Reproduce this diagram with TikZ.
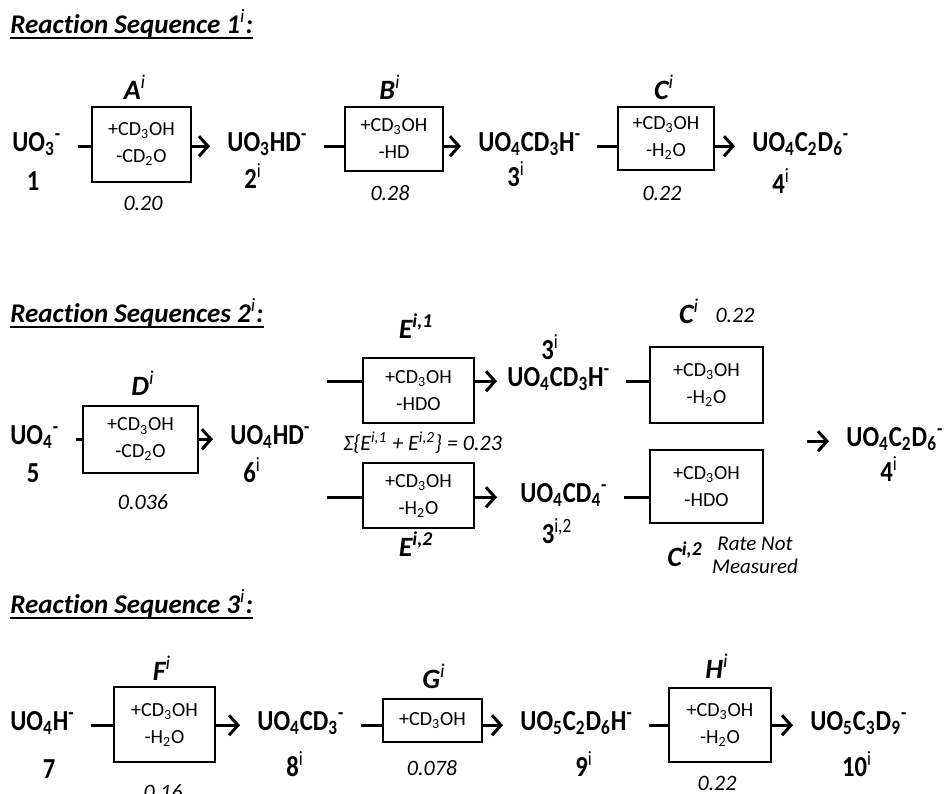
\documentclass[tikz,border=0pt]{standalone}
\usepackage{fontspec}
\setmainfont{Carlito}[Ligatures=NoCommon]
\newfontfamily\molfont{Carlito}[FakeStretch=0.85]
\usetikzlibrary{arrows.meta}

\tikzset{
  mol/.style={font=\fontsize{14.5}{16}\selectfont\molfont\bfseries, inner sep=0pt, anchor=base west},
  num/.style={font=\fontsize{14.5}{16}\selectfont\molfont\bfseries, inner sep=0pt, anchor=base},
  rxn/.style={font=\fontsize{14}{16}\selectfont\bfseries\itshape, inner sep=0pt, anchor=base},
  rate/.style={font=\fontsize{11}{13}\selectfont\itshape, inner sep=0pt},
  head/.style={font=\fontsize{13.5}{16}\selectfont\bfseries\itshape, inner sep=0pt, anchor=base west},
  uline/.style={line width=1pt},
  stepbox/.style={draw, line width=0.8pt, inner sep=0pt, align=center, font=\fontsize{10}{13.5}\selectfont},
  stub/.style={line width=1.5pt, shorten <=8pt},
  rx/.style={line width=1.5pt, -{Straight Barb[length=4.5pt,width=10pt]}, shorten >=8.5pt},
}

\begin{document}
\begin{tikzpicture}[x=0.5pt,y=-0.5pt]
    \useasboundingbox (0,0) rectangle (946,793);
    \clip (0,0) rectangle (946,793);
    % Sequence 1
    \node[head] (t1) at (10,33) {Reaction Sequence 1\textsuperscript{\mdseries i}:};
    \draw[uline] ([yshift=-2.5pt]t1.base west) -- ([yshift=-2.5pt]t1.base east);
    \node[mol] (m1) at (12,151) {UO\textsubscript{3}\textsuperscript{-}};
    \node[num] (n1) at (33,190) {1};
    \node[stepbox, minimum width=49.5pt, minimum height=37.5pt] (bA) at (141.5,144.5) {+CD\textsubscript{3}OH\\-CD\textsubscript{2}O};
    \node[rxn] (lA) at (135,99) {A\textsuperscript{\mdseries i}};
    \node[rate] (rA) at (143,203) {0.20};
    \node[mol] (m2) at (227,151) {UO\textsubscript{3}HD\textsuperscript{-}};
    \node[num] (n2) at (253,188) {2\textsuperscript{\mdseries i}};
    \node[stepbox, minimum width=49pt, minimum height=32pt] (bB) at (394,139) {+CD\textsubscript{3}OH\\-HD};
    \node[rxn] (lB) at (390,99) {B\textsuperscript{\mdseries i}};
    \node[rate] (rB) at (390,193) {0.28};
    \node[mol] (m3) at (478,151) {UO\textsubscript{4}CD\textsubscript{3}H\textsuperscript{-}};
    \node[num] (n3) at (516,186) {3\textsuperscript{\mdseries i}};
    \node[stepbox, minimum width=48pt, minimum height=31.5pt] (bC) at (666,138.5) {+CD\textsubscript{3}OH\\-H\textsubscript{2}O};
    \node[rxn] (lC) at (664,99) {C\textsuperscript{\mdseries i}};
    \node[rate] (rC) at (662,193) {0.22};
    \node[mol] (m4) at (752,151) {UO\textsubscript{4}C\textsubscript{2}D\textsubscript{6}\textsuperscript{-}};
    \node[num] (n4) at (781,193) {4\textsuperscript{\mdseries i}};
    \foreach \a/\b/\c in {m1/bA/m2, m2/bB/m3, m3/bC/m4} {
        \draw[stub] (\a.mid east) -- (\a.mid east -| \b.west);
        \draw[rx] (\c.mid west -| \b.east) -- (\c.mid west);
    }
    % Sequence 2
    \node[head] (t2) at (10,322) {Reaction Sequences 2\textsuperscript{\mdseries i}:};
    \draw[uline] ([yshift=-2.5pt]t2.base west) -- ([yshift=-2.5pt]t2.base east);
    \node[mol] (m5) at (10,444) {UO\textsubscript{4}\textsuperscript{-}};
    \node[num] (n5) at (33,482) {5};
    \node[stepbox, minimum width=57.5pt, minimum height=33.5pt] (bD) at (140.5,439.5) {+CD\textsubscript{3}OH\\-CD\textsubscript{2}O};
    \node[rxn] (lD) at (143,395) {D\textsuperscript{\mdseries i}};
    \node[rate] (rD) at (143,502) {0.036};
    \node[mol] (m6) at (230,444) {UO\textsubscript{4}HD\textsuperscript{-}};
    \node[num] (n6) at (252,482) {6\textsuperscript{\mdseries i}};
    % upper branch
    \node[stepbox, minimum width=55.5pt, minimum height=32.5pt] (bE1) at (418.5,390.5) {+CD\textsubscript{3}OH\\-HDO};
    \node[rxn] (lE1) at (416,338) {E\textsuperscript{i,1}};
    \node[mol] (m3b) at (507,386) {UO\textsubscript{4}CD\textsubscript{3}H\textsuperscript{-}};
    \node[num] (n3b) at (550,359) {3\textsuperscript{\mdseries i}};
    \node[stepbox, minimum width=56.5pt, minimum height=38pt] (bC1) at (706.5,385) {+CD\textsubscript{3}OH\\-H\textsubscript{2}O};
    \node[rxn] (lC1) at (689,323) {C\textsuperscript{\mdseries i}};
    \node[rate] (rC1) at (735,315) {0.22};
    \node[rate, anchor=base west] (sE) at (343,450) {Σ\{E\textsuperscript{i,1} + E\textsuperscript{i,2}\} = 0.23};
    % lower branch
    \node[stepbox, minimum width=55.5pt, minimum height=32.5pt] (bE2) at (418.5,495.5) {+CD\textsubscript{3}OH\\-H\textsubscript{2}O};
    \node[rxn] (lE2) at (416,556) {E\textsuperscript{i,2}};
    \node[mol] (m3c) at (520,502) {UO\textsubscript{4}CD\textsubscript{4}\textsuperscript{-}};
    \node[num] (n3c) at (557,543) {3\textsuperscript{\mdseries i,2}};
    \node[stepbox, minimum width=56.5pt, minimum height=36.5pt] (bC2) at (706.5,486.5) {+CD\textsubscript{3}OH\\-HDO};
    \node[rxn] (lC2) at (685,566) {C\textsuperscript{i,2}};
    \node[rate, align=center, font=\fontsize{10.5}{11.5}\selectfont\itshape] (nm) at (755,555) {Rate Not\\Measured};
    % joined product
    \coordinate (c4) at (807,0);
    \node[mol] (m4b) at (846,446) {UO\textsubscript{4}C\textsubscript{2}D\textsubscript{6}\textsuperscript{-}};
    \node[num] (n4b) at (889,481) {4\textsuperscript{\mdseries i}};
    \draw[stub] (m5.mid east) -- (m5.mid east -| bD.west);
    \draw[rx] (m6.mid west -| bD.east) -- (m6.mid west);
    \draw[stub] (m6.east |- m3b.mid) -- (bE1.west |- m3b.mid);
    \draw[rx, shorten >=5pt] (bE1.east |- m3b.mid) -- (m3b.mid west);
    \draw[stub] (m6.east |- m3c.mid) -- (bE2.west |- m3c.mid);
    \draw[rx, shorten >=11.5pt] (bE2.east |- m3c.mid) -- (m3c.mid west);
    \draw[stub] (m3b.mid east) -- (m3b.mid east -| bC1.west);
    \draw[stub] (m3c.mid east) -- (m3c.mid east -| bC2.west);
    \draw[rx] (c4 |- m4b.mid west) -- (m4b.mid west);
    % Sequence 3
    \node[head] (t3) at (10,613) {Reaction Sequence 3\textsuperscript{\mdseries i}:};
    \draw[uline] ([yshift=-2.5pt]t3.base west) -- ([yshift=-2.5pt]t3.base east);
    \node[mol] (m7) at (10,730) {UO\textsubscript{4}H\textsuperscript{-}};
    \node[num] (n7) at (49,778) {7};
    \node[stepbox, minimum width=50.5pt, minimum height=37.5pt] (bF) at (164.5,724.5) {+CD\textsubscript{3}OH\\-H\textsubscript{2}O};
    \node[rxn] (lF) at (162,680) {F\textsuperscript{\mdseries i}};
    \node[rate] (rF) at (163,792) {0.16};
    \node[mol] (m8) at (257,730) {UO\textsubscript{4}CD\textsubscript{3}\textsuperscript{-}};
    \node[num] (n8) at (295,776) {8\textsuperscript{\mdseries i}};
    \node[stepbox, minimum width=49.5pt, minimum height=21.5pt] (bG) at (432.5,720.5) {+CD\textsubscript{3}OH};
    \node[rxn] (lG) at (434,688) {G\textsuperscript{\mdseries i}};
    \node[rate] (rG) at (432,768) {0.078};
    \node[mol] (m9) at (520,730) {UO\textsubscript{5}C\textsubscript{2}D\textsubscript{6}H\textsuperscript{-}};
    \node[num] (n9) at (584,776) {9\textsuperscript{\mdseries i}};
    \node[stepbox, minimum width=51pt, minimum height=37pt] (bH) at (720,725) {+CD\textsubscript{3}OH\\-H\textsubscript{2}O};
    \node[rxn] (lH) at (717,678) {H\textsuperscript{\mdseries i}};
    \node[rate] (rH) at (717,783) {0.22};
    \node[mol] (m10) at (810,730) {UO\textsubscript{5}C\textsubscript{3}D\textsubscript{9}\textsuperscript{-}};
    \node[num] (n10) at (857,776) {10\textsuperscript{\mdseries i}};
    \foreach \a/\b/\c in {m7/bF/m8, m8/bG/m9, m9/bH/m10} {
        \draw[stub] (\a.mid east) -- (\a.mid east -| \b.west);
        \draw[rx] (\c.mid west -| \b.east) -- (\c.mid west);
    }
\end{tikzpicture}
\end{document}
